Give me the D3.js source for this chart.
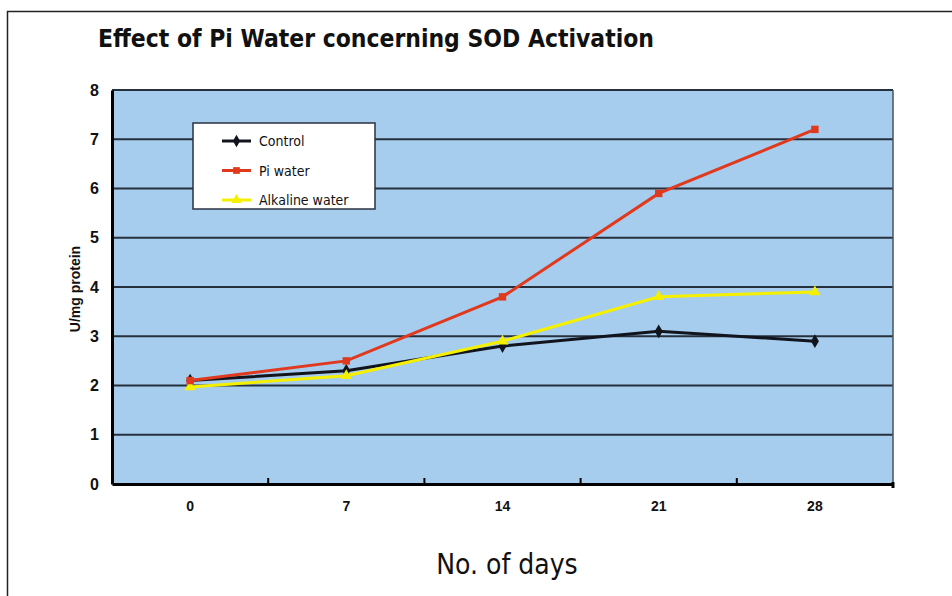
<!DOCTYPE html>
<html>
<head>
<meta charset="utf-8">
<script src="https://cdn.jsdelivr.net/npm/d3@7"></script>
<style>
  body { margin: 0; background: #fff; }
  svg { display: block; }
</style>
</head>
<body>
<div id="chart"></div>
<script>
// values
const days = ['0', '7', '14', '21', '28'];
const control = [2.1, 2.3, 2.8, 3.1, 2.9];
const piWater = [2.1, 2.5, 3.8, 5.9, 7.2];
const alkaline = [1.97, 2.2, 2.9, 3.8, 3.9];
const yTicks = [0, 1, 2, 3, 4, 5, 6, 7, 8];

const series = [
  { name: 'Control', values: control, color: '#11141c', marker: d3.symbolDiamond },
  { name: 'Pi water', values: piWater, color: '#e0391d', marker: d3.symbolSquare },
  { name: 'Alkaline water', values: alkaline, color: '#f4f000', marker: d3.symbolTriangle }
];
const drawOrder = [0, 2, 1];

const width = 952, height = 596;
const margin = { top: 90, right: 59, bottom: 112, left: 112 };
const innerW = width - margin.left - margin.right;
const innerH = height - margin.top - margin.bottom;

const tickFont = 'Liberation Sans, Arial, sans-serif';

const svg = d3.select('#chart').append('svg')
  .attr('width', width)
  .attr('height', height);

// outer frame of the scanned page
svg.append('path')
  .attr('d', `M7.5,${height + 5} V11.5 H${width + 5}`)
  .attr('fill', 'none')
  .attr('stroke', '#222')
  .attr('stroke-width', 1.5);

svg.append('text')
  .attr('x', 98)
  .attr('y', 47)
  .attr('font-family', 'DejaVu Sans Condensed, DejaVu Sans, sans-serif')
  .attr('font-weight', 'bold')
  .attr('font-size', 24)
  .attr('textLength', 556)
  .attr('lengthAdjust', 'spacingAndGlyphs')
  .attr('fill', '#111')
  .text('Effect of Pi Water concerning SOD Activation');

const g = svg.append('g').attr('transform', `translate(${margin.left},${margin.top})`);

const x = d3.scaleBand().domain(days).range([0, innerW]);
const y = d3.scaleLinear().domain([0, 8]).range([innerH, 0]);

g.append('rect')
  .attr('width', innerW)
  .attr('height', innerH)
  .attr('fill', '#a7cdee');

// horizontal gridlines
g.selectAll('.grid')
  .data(yTicks.filter(d => d > 0))
  .join('line')
  .attr('class', 'grid')
  .attr('x1', 0)
  .attr('x2', innerW)
  .attr('y1', d => y(d))
  .attr('y2', d => y(d))
  .attr('stroke', '#26303d')
  .attr('stroke-width', 2);

g.append('line')
  .attr('x1', innerW).attr('x2', innerW)
  .attr('y1', 0).attr('y2', innerH)
  .attr('stroke', '#4a5260')
  .attr('stroke-width', 1.5);

// y axis
const yAxis = g.append('g').call(d3.axisLeft(y).tickValues(yTicks).tickSize(0).tickPadding(13));
yAxis.select('.domain').attr('stroke', '#000').attr('stroke-width', 3);
yAxis.selectAll('text')
  .attr('font-family', tickFont)
  .attr('font-weight', 'bold')
  .attr('font-size', 16)
  .attr('fill', '#111');

// x axis: ticks sit between the bands, labels in the middle
const xAxis = g.append('g')
  .attr('transform', `translate(0,${innerH})`)
  .call(d3.axisBottom(x).tickSize(0).tickPadding(17));
xAxis.select('.domain').attr('stroke', '#000').attr('stroke-width', 3);
xAxis.selectAll('text')
  .attr('font-family', tickFont)
  .attr('font-weight', 'bold')
  .attr('font-size', 14)
  .attr('fill', '#111');
xAxis.selectAll('.sep')
  .data(days.slice(1))
  .join('line')
  .attr('class', 'sep')
  .attr('x1', d => x(d))
  .attr('x2', d => x(d))
  .attr('y1', 0)
  .attr('y2', -6)
  .attr('stroke', '#000')
  .attr('stroke-width', 2);
xAxis.append('line')
  .attr('x1', innerW).attr('x2', innerW)
  .attr('y1', -2).attr('y2', 4)
  .attr('stroke', '#000')
  .attr('stroke-width', 3);

// lines and markers
const cx = d => x(d) + x.bandwidth() / 2;
const line = d3.line()
  .x((v, i) => cx(days[i]))
  .y(v => y(v));

drawOrder.forEach(k => {
  const s = series[k];
  const sg = g.append('g');
  sg.append('path')
    .datum(s.values)
    .attr('d', line)
    .attr('fill', 'none')
    .attr('stroke', s.color)
    .attr('stroke-width', 3);
  sg.selectAll('path.pt')
    .data(s.values)
    .join('path')
    .attr('class', 'pt')
    .attr('transform', (v, i) => `translate(${cx(days[i])},${y(v)})`)
    .attr('d', d3.symbol().type(s.marker).size(55))
    .attr('fill', s.color);
});

// legend
const lg = svg.append('g').attr('transform', 'translate(193,123)');
lg.append('rect')
  .attr('width', 182)
  .attr('height', 86)
  .attr('fill', '#fff')
  .attr('stroke', '#2a3240')
  .attr('stroke-width', 1.5);
series.forEach((s, i) => {
  const row = lg.append('g').attr('transform', `translate(0,${18 + i * 29.5})`);
  row.append('line')
    .attr('x1', 29).attr('x2', 58)
    .attr('stroke', s.color)
    .attr('stroke-width', 3);
  row.append('path')
    .attr('transform', 'translate(43.5,0)')
    .attr('d', d3.symbol().type(s.marker).size(45))
    .attr('fill', s.color);
  row.append('text')
    .attr('x', 66)
    .attr('y', 5)
    .attr('font-family', 'DejaVu Sans Condensed, DejaVu Sans, sans-serif')
    .attr('font-size', 14)
    .attr('fill', '#111')
    .text(s.name);
});

// axis titles
svg.append('text')
  .attr('transform', 'translate(80,289) rotate(-90)')
  .attr('text-anchor', 'middle')
  .attr('font-family', tickFont)
  .attr('font-weight', 'bold')
  .attr('font-size', 14)
  .attr('fill', '#111')
  .text('U/mg protein');

svg.append('text')
  .attr('x', 507)
  .attr('y', 574)
  .attr('text-anchor', 'middle')
  .attr('font-family', 'DejaVu Sans Condensed, DejaVu Sans, sans-serif')
  .attr('font-size', 28)
  .attr('fill', '#111')
  .text('No. of days');
</script>
</body>
</html>
